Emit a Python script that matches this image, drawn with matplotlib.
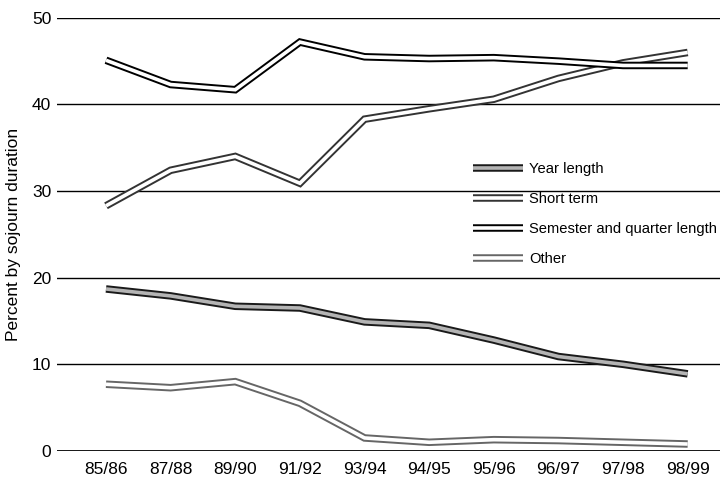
"""Sojourn duration shares of study-abroad students, 85/86 to 98/99."""

import matplotlib

matplotlib.use("Agg")
import matplotlib.pyplot as plt
import matplotlib.patheffects as pe

YEARS = ["85/86", "87/88", "89/90", "91/92", "93/94",
         "94/95", "95/96", "96/97", "97/98", "98/99"]

YEAR_LENGTH = [18.7, 17.9, 16.7, 16.5, 14.9, 14.5, 12.8, 10.9, 10.0, 8.9]
SHORT_TERM = [28.3, 32.4, 34.0, 30.9, 38.3, 39.5, 40.6, 43.0, 44.8, 46.0]
SEMESTER = [45.1, 42.3, 41.7, 47.2, 45.5, 45.3, 45.4, 45.0, 44.5, 44.5]
OTHER = [7.7, 7.3, 8.0, 5.5, 1.5, 1.0, 1.3, 1.2, 1.0, 0.8]

YTICKS = [0, 10, 20, 30, 40, 50]

plt.rcParams["font.family"] = ["Liberation Sans", "DejaVu Sans"]


def hollow(ax, y, inner, outer, label):
    x = range(len(y))
    ax.plot(x, y, color=inner, lw=2.6, solid_joinstyle="miter",
            solid_capstyle="butt", label=label, clip_on=False, zorder=3,
            path_effects=[pe.Stroke(linewidth=5.4, foreground=outer,
                                    capstyle="butt", joinstyle="miter"),
                          pe.Normal()])


fig = plt.figure(figsize=(7.2, 4.95), dpi=100)
ax = fig.add_axes([0.079, 0.089, 0.921, 0.875])

for v in YTICKS:
    ax.axhline(v, color="black", lw=2.0 if v == 0 else 1.0, zorder=1)

hollow(ax, YEAR_LENGTH, "#b4b4b4", "#1a1a1a", "Year length")
hollow(ax, SHORT_TERM, "white", "#333333", "Short term")
hollow(ax, SEMESTER, "white", "black", "Semester and quarter length")
hollow(ax, OTHER, "white", "#666666", "Other")

ax.set_xlim(-0.76, 9.5)
ax.set_ylim(0, 50)
ax.set_xticks(range(len(YEARS)))
ax.set_xticklabels(YEARS)
ax.set_yticks(YTICKS)
ax.tick_params(axis="both", length=0, labelsize=12.5)
ax.tick_params(axis="x", pad=8)
ax.tick_params(axis="y", pad=4)
for s in ax.spines.values():
    s.set_visible(False)

ax.set_ylabel("Percent by sojourn duration", fontsize=12.5, labelpad=8)

ax.legend(loc="upper left", bbox_to_anchor=(0.627, 0.667), frameon=False,
          fontsize=10.6, handlelength=3.4, labelspacing=1.08,
          handletextpad=0.45, borderpad=0, borderaxespad=0)

fig.savefig("out.png", dpi=100)
